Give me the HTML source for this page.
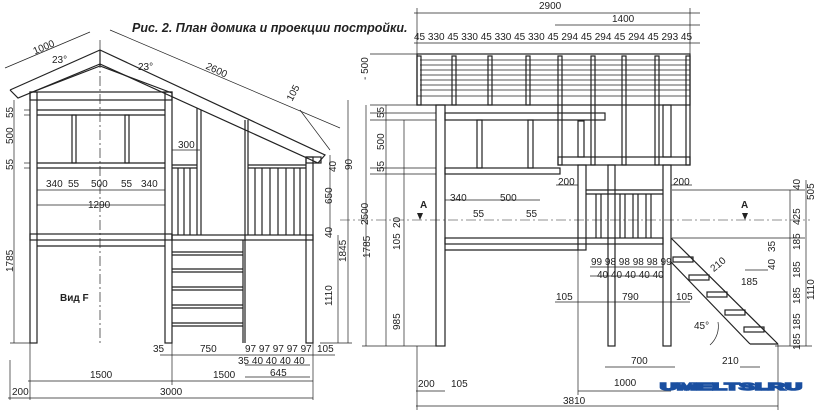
<!DOCTYPE html>
<html><head><meta charset="utf-8"><style>
html,body{margin:0;padding:0;background:#fff;width:819px;height:412px;overflow:hidden}
svg{display:block}
text{font-family:"Liberation Sans","DejaVu Sans",sans-serif;font-size:10px;fill:#222}
.t{font-weight:bold;font-style:italic;font-size:12.5px}
</style></head><body>
<svg width="819" height="412" viewBox="0 0 819 412" xmlns="http://www.w3.org/2000/svg">
<g stroke="#222" stroke-width="1.2" fill="none">
<polyline points="10,90 100,50 325,155 318,163 100,64 18,98 10,90"/>
<polyline points="30,93 100,66 172,93"/>
<line x1="100" y1="50" x2="100" y2="66"/>
<rect x="30" y="92" width="7" height="251"/>
<rect x="165" y="92" width="7" height="251"/>
<rect x="30" y="92" width="142" height="8"/>
<line x1="37" y1="110" x2="165" y2="110"/><line x1="37" y1="115" x2="165" y2="115"/>
<line x1="37" y1="163" x2="165" y2="163"/><line x1="37" y1="168" x2="165" y2="168"/>
<rect x="72" y="115" width="4" height="48"/><rect x="125" y="115" width="4" height="48"/>
<rect x="30" y="234" width="142" height="6"/><line x1="37" y1="246" x2="165" y2="246"/>
<line x1="197" y1="108" x2="197" y2="235"/><line x1="201" y1="110" x2="201" y2="235"/>
<line x1="245" y1="120" x2="245" y2="343"/><line x1="248" y1="120" x2="248" y2="235"/>
<rect x="306" y="157" width="7" height="186"/><rect x="306" y="157" width="15" height="6"/>
<line x1="172" y1="165" x2="197" y2="165"/><line x1="248" y1="165" x2="306" y2="165"/>
<line x1="172" y1="168" x2="197" y2="168"/><line x1="248" y1="168" x2="306" y2="168"/>
<line x1="178" y1="168" x2="178" y2="235"/><line x1="184" y1="168" x2="184" y2="235"/><line x1="190" y1="168" x2="190" y2="235"/>
<line x1="255" y1="168" x2="255" y2="235"/><line x1="262" y1="168" x2="262" y2="235"/><line x1="270" y1="168" x2="270" y2="235"/><line x1="278" y1="168" x2="278" y2="235"/><line x1="286" y1="168" x2="286" y2="235"/><line x1="294" y1="168" x2="294" y2="235"/><line x1="300" y1="168" x2="300" y2="235"/>
<rect x="172" y="235" width="141" height="5"/>
<line x1="243" y1="240" x2="243" y2="343"/>
<line x1="172" y1="252" x2="243" y2="252"/><line x1="172" y1="255" x2="243" y2="255"/>
<line x1="172" y1="269" x2="243" y2="269"/><line x1="172" y1="272" x2="243" y2="272"/>
<line x1="172" y1="287" x2="243" y2="287"/><line x1="172" y1="290" x2="243" y2="290"/>
<line x1="172" y1="305" x2="243" y2="305"/><line x1="172" y1="308" x2="243" y2="308"/>
<line x1="172" y1="323" x2="243" y2="323"/><line x1="172" y1="326" x2="243" y2="326"/>
<g stroke-width="0.7">
<line x1="5" y1="68" x2="90" y2="32"/><line x1="110" y1="30" x2="340" y2="128"/>
<line x1="330" y1="150" x2="300" y2="110"/>
<line x1="24" y1="110" x2="30" y2="110"/><line x1="24" y1="115" x2="30" y2="115"/>
<line x1="24" y1="163" x2="30" y2="163"/><line x1="24" y1="168" x2="30" y2="168"/>
<line x1="14" y1="100" x2="14" y2="343"/><line x1="10" y1="343" x2="30" y2="343"/>
<line x1="37" y1="190" x2="165" y2="190"/><line x1="37" y1="205" x2="165" y2="205"/>
<line x1="172" y1="150" x2="200" y2="150"/>
<line x1="160" y1="355" x2="335" y2="355"/>
<line x1="245" y1="365" x2="310" y2="365"/><line x1="245" y1="377" x2="310" y2="377"/>
<line x1="28" y1="381" x2="172" y2="381"/><line x1="172" y1="381" x2="313" y2="381"/>
<line x1="8" y1="398" x2="313" y2="398"/>
<line x1="30" y1="343" x2="30" y2="400"/><line x1="10" y1="360" x2="10" y2="400"/><line x1="172" y1="343" x2="172" y2="385"/><line x1="313" y1="343" x2="313" y2="400"/>
<line x1="330" y1="155" x2="330" y2="235"/><line x1="348" y1="100" x2="348" y2="343"/><line x1="338" y1="235" x2="338" y2="343"/>
<line x1="320" y1="343" x2="352" y2="343"/>
<line x1="100" y1="40" x2="100" y2="345" stroke-dasharray="10,3,2,3"/>
</g>
<rect x="417" y="54" width="273" height="51"/>
<g stroke-width="0.8">
<line x1="420" y1="60" x2="690" y2="60"/><line x1="420" y1="65" x2="690" y2="65"/><line x1="420" y1="70" x2="690" y2="70"/><line x1="420" y1="75" x2="690" y2="75"/><line x1="420" y1="80" x2="690" y2="80"/><line x1="420" y1="85" x2="690" y2="85"/><line x1="420" y1="90" x2="690" y2="90"/><line x1="417" y1="96" x2="690" y2="96"/>
</g>
<rect x="417" y="56" width="4" height="49"/><rect x="452" y="56" width="4" height="49"/><rect x="488" y="56" width="4" height="49"/><rect x="526" y="56" width="4" height="49"/>
<rect x="558" y="56" width="4" height="109"/><rect x="591" y="56" width="4" height="109"/><rect x="622" y="56" width="4" height="109"/><rect x="655" y="56" width="4" height="109"/><rect x="686" y="56" width="4" height="109"/>
<rect x="436" y="105" width="9" height="241"/>
<rect x="445" y="113" width="160" height="7"/>
<rect x="445" y="168" width="115" height="6"/>
<rect x="477" y="120" width="5" height="48"/><rect x="528" y="120" width="5" height="48"/>
<rect x="578" y="121" width="6" height="36"/><rect x="663" y="105" width="8" height="52"/>
<rect x="558" y="157" width="132" height="8"/>
<rect x="578" y="165" width="8" height="85"/><rect x="608" y="165" width="7" height="181"/><rect x="663" y="165" width="8" height="181"/>
<line x1="586" y1="190" x2="663" y2="190"/><line x1="586" y1="194" x2="663" y2="194"/>
<line x1="596" y1="194" x2="596" y2="238"/><line x1="601" y1="194" x2="601" y2="238"/><line x1="620" y1="194" x2="620" y2="238"/><line x1="625" y1="194" x2="625" y2="238"/><line x1="633" y1="194" x2="633" y2="238"/><line x1="638" y1="194" x2="638" y2="238"/><line x1="646" y1="194" x2="646" y2="238"/><line x1="651" y1="194" x2="651" y2="238"/>
<rect x="445" y="238" width="218" height="6"/><line x1="445" y1="250" x2="578" y2="250"/>
<line x1="671" y1="238" x2="778" y2="344"/><line x1="671" y1="262" x2="750" y2="344"/><line x1="750" y1="344" x2="778" y2="344"/>
<rect x="673" y="257" width="20" height="5"/><rect x="689" y="275" width="20" height="5"/><rect x="707" y="292" width="20" height="5"/><rect x="725" y="310" width="20" height="5"/><rect x="744" y="327" width="20" height="5"/>
<g stroke-width="0.7">
<line x1="414" y1="13" x2="700" y2="13"/><line x1="555" y1="25" x2="700" y2="25"/><line x1="414" y1="43" x2="700" y2="43"/>
<line x1="417" y1="8" x2="417" y2="54"/><line x1="690" y1="8" x2="690" y2="54"/>
<line x1="370" y1="54" x2="417" y2="54"/><line x1="370" y1="105" x2="436" y2="105"/>
<line x1="370" y1="113" x2="436" y2="113"/><line x1="370" y1="120" x2="436" y2="120"/>
<line x1="370" y1="168" x2="436" y2="168"/><line x1="370" y1="174" x2="436" y2="174"/>
<line x1="366" y1="105" x2="366" y2="346"/><line x1="386" y1="105" x2="386" y2="346"/><line x1="404" y1="120" x2="404" y2="346"/>
<line x1="362" y1="346" x2="436" y2="346"/>
<line x1="445" y1="200" x2="540" y2="200"/>
<line x1="556" y1="185" x2="578" y2="185"/><line x1="671" y1="185" x2="692" y2="185"/>
<line x1="590" y1="267" x2="663" y2="267"/><line x1="590" y1="276" x2="663" y2="276"/>
<line x1="555" y1="302" x2="690" y2="302"/>
<line x1="605" y1="367" x2="675" y2="367"/><line x1="740" y1="367" x2="760" y2="367"/>
<line x1="416" y1="391" x2="445" y2="391"/><line x1="578" y1="391" x2="671" y2="391"/>
<line x1="416" y1="406" x2="778" y2="406"/>
<line x1="417" y1="346" x2="417" y2="410"/><line x1="578" y1="250" x2="578" y2="395"/><line x1="778" y1="344" x2="778" y2="410"/>
<line x1="672" y1="190" x2="805" y2="190"/><line x1="672" y1="238" x2="805" y2="238"/>
<line x1="790" y1="190" x2="790" y2="346"/><line x1="806" y1="180" x2="806" y2="346"/><line x1="775" y1="346" x2="812" y2="346"/>
<line x1="745" y1="270" x2="768" y2="270"/>
<line x1="340" y1="220" x2="810" y2="220" stroke-dasharray="10,3,2,3" stroke-width="0.6"/>
</g>
<path d="M718,322 A25,25 0 0 1 710,345" stroke-width="0.7"/>
</g>
<path d="M420,220 l-3,-7 h6z M745,220 l-3,-7 h6z" fill="#222"/>
<text x="132" y="32" class="t">Рис. 2. План домика и проекции постройки.</text>
<text x="33" y="50" transform="rotate(-23 45 48)">1000</text>
<text x="52" y="63">23°</text><text x="138" y="70">23°</text>
<text x="205" y="75" transform="rotate(25 220 72)">2600</text>
<text x="285" y="100" transform="rotate(-62 290 95)">105</text>
<g transform="rotate(-90)"><text x="-118" y="13">55</text><text x="-144" y="13">500</text><text x="-170" y="13">55</text><text x="-272" y="13">1785</text>
<text x="-170" y="352">90</text><text x="-172" y="336">40</text><text x="-204" y="332">650</text><text x="-238" y="332">40</text><text x="-262" y="346">1845</text><text x="-306" y="332">1110</text>
<text x="-80" y="368">- 500</text><text x="-118" y="384">55</text><text x="-150" y="384">500</text><text x="-172" y="384">55</text><text x="-258" y="370">1785</text><text x="-228" y="400">20</text><text x="-250" y="400">105</text><text x="-330" y="400">985</text>
<text x="-225" y="368">2500</text>
<text x="-190" y="800">40</text><text x="-225" y="800">425</text><text x="-200" y="814">505</text><text x="-250" y="800">185</text><text x="-278" y="800">185</text><text x="-304" y="800">185</text><text x="-330" y="800">185</text><text x="-350" y="800">185</text><text x="-252" y="775">35</text><text x="-270" y="775">40</text><text x="-300" y="814">1110</text>
</g>
<text x="178" y="148">300</text>
<text x="46" y="187">340</text><text x="68" y="187">55</text><text x="91" y="187">500</text><text x="121" y="187">55</text><text x="141" y="187">340</text>
<text x="88" y="208">1290</text>
<text x="60" y="301" font-weight="bold">Вид F</text>
<text x="153" y="352">35</text><text x="200" y="352">750</text>
<text x="245" y="352" font-size="9">97 97 97 97 97</text><text x="317" y="352">105</text>
<text x="238" y="364" font-size="9">35 40 40 40 40</text><text x="270" y="376">645</text>
<text x="90" y="378">1500</text><text x="213" y="378">1500</text>
<text x="12" y="395">200</text><text x="160" y="395">3000</text>
<text x="539" y="9">2900</text><text x="612" y="22">1400</text>
<text x="414" y="40" font-size="9.5">45 330 45 330 45 330 45 330 45 294 45 294 45 294 45 293 45</text>
<text x="558" y="185">200</text><text x="673" y="185">200</text>
<text x="450" y="201">340</text><text x="500" y="201">500</text>
<text x="473" y="217">55</text><text x="526" y="217">55</text>
<text x="420" y="208" font-weight="bold">A</text><text x="741" y="208" font-weight="bold">A</text>
<text x="591" y="265" font-size="9">99 98 98 98 98 99</text>
<text x="597" y="278" font-size="9">40 40 40 40 40</text>
<text x="556" y="300">105</text><text x="622" y="300">790</text><text x="676" y="300">105</text>
<text x="710" y="270" transform="rotate(-40 715 266)">210</text>
<text x="741" y="285">185</text><text x="694" y="329">45°</text>
<text x="631" y="364">700</text><text x="722" y="364">210</text>
<text x="418" y="387">200</text><text x="451" y="387">105</text><text x="614" y="386">1000</text>
<text x="563" y="404">3810</text>
<text x="660" y="390" font-size="17" font-weight="bold" textLength="142" lengthAdjust="spacingAndGlyphs" style="fill:#dde8ff;stroke:#1a4fa0;stroke-width:1.5">UMELTSI.RU</text>
</svg>
</body></html>
